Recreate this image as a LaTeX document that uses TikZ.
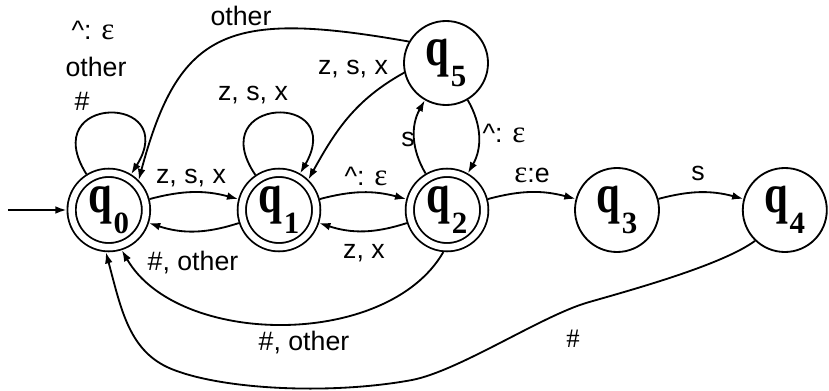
\documentclass[tikz,border=0pt]{standalone}
\usepackage{fontspec}
\setmainfont{Liberation Sans}
\newfontfamily\serif{Liberation Serif}
\usepackage{graphicx}
\usetikzlibrary{arrows.meta}
\newcommand{\qn}[1]{{\serif\bfseries\scalebox{0.78}[1]{\fontsize{39}{39}\selectfont q}\kern1pt\raisebox{-15pt}{\fontsize{22}{22}\selectfont #1}}}
\newcommand{\eps}{{\serif\fontsize{22}{22}\selectfont ε}}
\begin{document}
\begin{tikzpicture}[st/.style={draw,circle,line width=1.3pt,minimum size=2.1cm,inner sep=0pt},
  acc/.style={st,double,double distance=4.6pt,minimum size=1.86cm,outer sep=3.6pt},
  tr/.style={draw,line width=1.3pt,->,>={Latex[length=8pt,width=5.5pt]}},
  lbl/.style={anchor=base,inner sep=0pt},
  font=\fontsize{19}{23}\selectfont]
\useasboundingbox (0,0) rectangle (20.725,9.75);
\node[acc] (q0) at (2.72,4.5) {\qn{0}};
\node[acc] (q1) at (6.975,4.5) {\qn{1}};
\node[acc] (q2) at (11.175,4.5) {\qn{2}};
\node[st] (q3) at (15.425,4.5) {\qn{3}};
\node[st] (q4) at (19.62,4.5) {\qn{4}};
\node[st] (q5) at (11.15,8.175) {\qn{5}};
\coordinate (start) at (0.2,4.5);

\path[tr] (start) -- (q0);
\path[tr] (q0.122) .. controls +(122:2.38) and +(58:2.38) .. (q0.58);
\path[tr] (q1.124) .. controls +(124:2.38) and +(60:2.38) .. (q1.60);
\path[tr] (q0) to[bend left=15] (q1);
\path[tr] (q1) to[bend left=18] (q0);
\path[tr] (q1) to[bend left=15] (q2);
\path[tr] (q2) to[bend left=18] (q1);
\path[tr] (q2) to[bend left=30] (q5);
\path[tr] (q5) to[bend left=30] (q2);
\path[tr] (q2) to[bend left=15] (q3);
\path[tr] (q3) to[bend left=15] (q4);
\path[tr] (q5.193) to[out=209,in=61] (q1.46);
\path[tr] (q5.150) .. controls +(170:4.6) and +(75:3.9) .. (q0.45);
\path[tr] (q2.265) .. controls +(240:2.8) and +(300:2.8) .. (q0.288);
\path[tr] (q4.226) .. controls (18.06,3.13) and (15.85,2.52) .. (14.7,2.19)
  .. controls (13.55,1.86) and (11.48,0.48) .. (10.3,0.25)
  .. controls (8.3,-0.12) and (5.6,0.0) .. (4.3,0.52)
  .. controls (3.23,0.95) and (3.035,1.997) .. (q0.266);

% labels
\node[lbl] (l00a) at (2.325,8.75) {\textasciicircum: \eps};
\node[lbl] (l00b) at (2.4,7.825) {other};
\node[lbl] (l00c) at (2.05,6.975) {\#};
\node[lbl] (l11) at (6.325,7.225) {z, s, x};
\node[lbl] (l50) at (6.025,9.1) {other};
\node[lbl] (l51) at (8.825,7.875) {z, s, x};
\node[lbl] (l01) at (4.775,5.175) {z, s, x};
\node[lbl] (l10) at (4.825,3.0) {\#, other};
\node[lbl] (l12) at (9.15,5.125) {\textasciicircum: \eps};
\node[lbl] (l21) at (9.1,3.3) {z, x};
\node[lbl] (l25) at (10.2,6.075) {s};
\node[lbl] (l52) at (12.6,6.175) {\textasciicircum: \eps};
\node[lbl] (l23) at (13.3,5.2) {\eps:e};
\node[lbl] (l34) at (17.45,5.25) {s};
\node[lbl] (l20) at (7.6,1.0) {\#, other};
\node[lbl] (l40) at (14.325,1.075) {{\serif\#}};
\end{tikzpicture}
\end{document}
